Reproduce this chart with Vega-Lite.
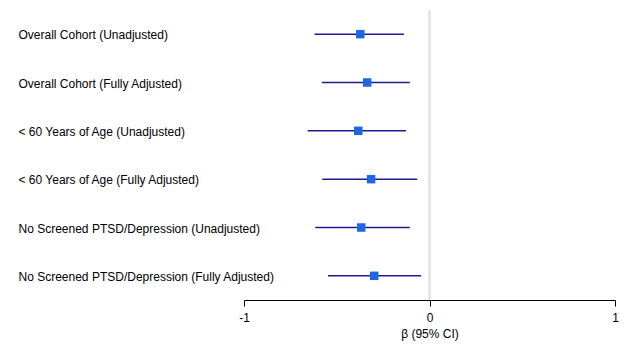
{
  "$schema": "https://vega.github.io/schema/vega-lite/v6.json",
  "autosize": {"type": "none"},
  "padding": {"left": 244, "top": 10, "right": 16, "bottom": 46},
  "width": 371,
  "height": 290,
  "background": "white",
  "config": {
    "view": {"stroke": null},
    "font": "Liberation Sans",
    "axis": {"labelFont": "Liberation Sans", "titleFont": "Liberation Sans"}
  },
  "data": {
    "values": [
      {"label": "Overall Cohort (Unadjusted)", "est": -0.373, "lo": -0.62, "hi": -0.138},
      {"label": "Overall Cohort (Fully Adjusted)", "est": -0.336, "lo": -0.58, "hi": -0.106},
      {"label": "< 60 Years of Age (Unadjusted)", "est": -0.384, "lo": -0.657, "hi": -0.127},
      {"label": "< 60 Years of Age (Fully Adjusted)", "est": -0.315, "lo": -0.578, "hi": -0.066},
      {"label": "No Screened PTSD/Depression (Unadjusted)", "est": -0.368, "lo": -0.616, "hi": -0.106},
      {"label": "No Screened PTSD/Depression (Fully Adjusted)", "est": -0.298, "lo": -0.547, "hi": -0.046}
    ]
  },
  "encoding": {
    "y": {
      "field": "label",
      "type": "nominal",
      "sort": null,
      "scale": {"type": "band", "paddingInner": 0, "paddingOuter": 0},
      "axis": {
        "title": null,
        "domain": false,
        "ticks": false,
        "labelAlign": "left",
        "labelPadding": 226,
        "labelFontSize": 12,
        "labelOffset": 1,
        "labelColor": "#000000",
        "labelLimit": 0
      }
    }
  },
  "layer": [
    {
      "mark": {"type": "rule", "color": "#e2e2e2", "strokeWidth": 1.5},
      "encoding": {
        "x": {"datum": 0, "type": "quantitative"},
        "y": null
      }
    },
    {
      "mark": {"type": "rule", "color": "#1c1c90", "strokeWidth": 1.5},
      "encoding": {
        "x": {
          "field": "lo",
          "type": "quantitative",
          "scale": {"domain": [-1, 1], "nice": false, "zero": false},
          "axis": {
            "values": [-1, 0, 1],
            "labelExpr": "datum.value < 0 ? '-1' : (datum.value > 0 ? '1' : '0')",
            "labelOverlap": false,
            "labelFlush": false,
            "grid": false,
            "domainColor": "#000000",
            "tickColor": "#000000",
            "tickSize": 6,
            "labelFontSize": 12,
            "labelColor": "#000000",
            "labelPadding": 6,
            "title": "β (95% CI)",
            "titleFontSize": 12,
            "titleFontWeight": "normal",
            "titleColor": "#000000",
            "titlePadding": 5
          }
        },
        "x2": {"field": "hi"}
      }
    },
    {
      "mark": {"type": "square", "color": "#1f66e5", "opacity": 1, "filled": true, "size": 72},
      "encoding": {
        "x": {"field": "est", "type": "quantitative"}
      }
    }
  ]
}
